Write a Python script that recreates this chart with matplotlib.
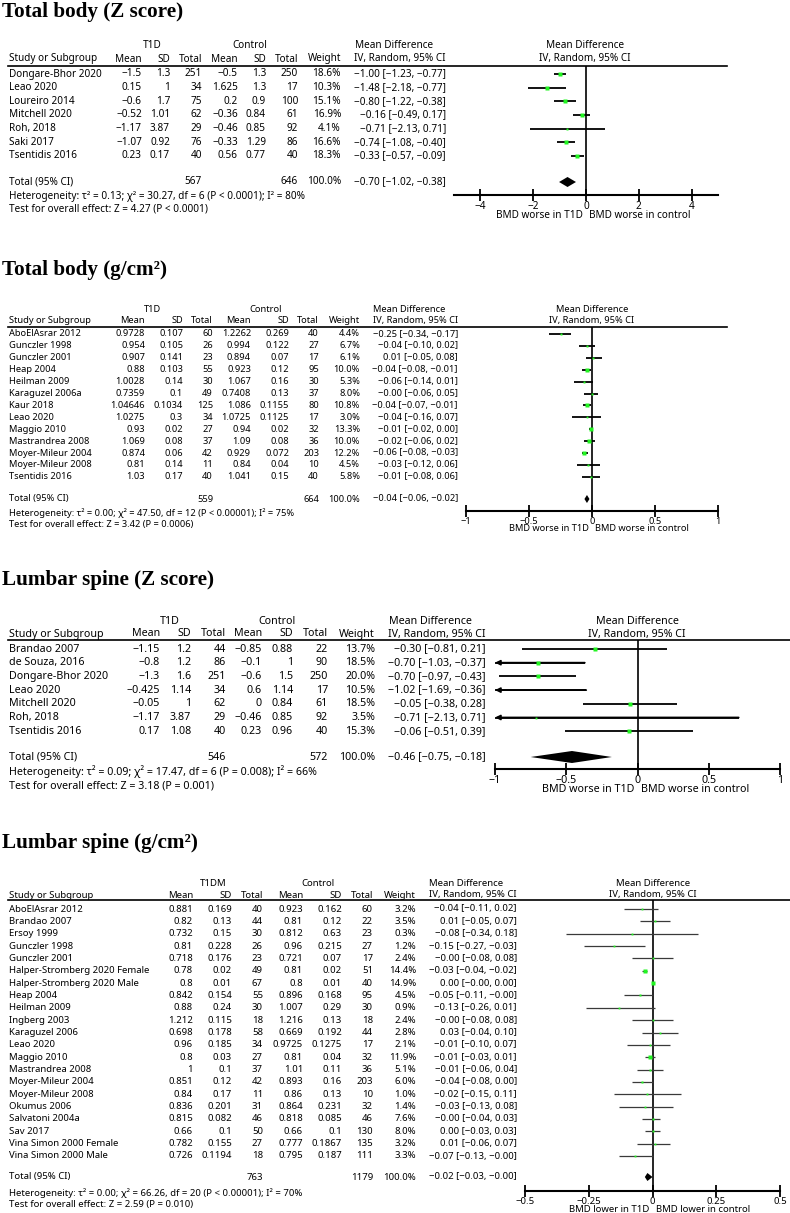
import matplotlib
matplotlib.use('Agg')
import matplotlib.pyplot as plt
from matplotlib.lines import Line2D
from matplotlib.ticker import FixedLocator
import numpy as np

plt.rcParams['font.family'] = ['Noto Sans', 'DejaVu Sans']

# ---------------- data: Total body (Z score) ----------------
tbz_study = ['Dongare-Bhor 2020', 'Leao 2020', 'Loureiro 2014', 'Mitchell 2020',
             'Roh, 2018', 'Saki 2017', 'Tsentidis 2016']
tbz_t1d_mean = [-1.5, 0.15, -0.6, -0.52, -1.17, -1.07, 0.23]
tbz_t1d_sd = [1.3, 1, 1.7, 1.01, 3.87, 0.92, 0.17]
tbz_t1d_n = [251, 34, 75, 62, 29, 76, 40]
tbz_ctl_mean = [-0.5, 1.625, 0.2, -0.36, -0.46, -0.33, 0.56]
tbz_ctl_sd = [1.3, 1.3, 0.9, 0.84, 0.85, 1.29, 0.77]
tbz_ctl_n = [250, 17, 100, 61, 92, 86, 40]
tbz_weight = [18.6, 10.3, 15.1, 16.9, 4.1, 16.6, 18.3]
tbz_md = [-1.00, -1.48, -0.80, -0.16, -0.71, -0.74, -0.33]
tbz_lo = [-1.23, -2.18, -1.22, -0.49, -2.13, -1.08, -0.57]
tbz_hi = [-0.77, -0.77, -0.38, 0.17, 0.71, -0.40, -0.09]
tbz_total = (567, 646, -0.70, -1.02, -0.38)
tbz_het = 'Heterogeneity: \u03c4\u00b2 = 0.13; \u03c7\u00b2 = 30.27, df = 6 (P < 0.0001); I\u00b2 = 80%'
tbz_test = 'Test for overall effect: Z = 4.27 (P < 0.0001)'

# ---------------- data: Total body (g/cm2) ----------------
tbg_study = ['AboElAsrar 2012', 'Gunczler 1998', 'Gunczler 2001', 'Heap 2004', 'Heilman 2009',
             'Karaguzel 2006a', 'Kaur 2018', 'Leao 2020', 'Maggio 2010', 'Mastrandrea 2008',
             'Moyer-Mileur 2004', 'Moyer-Mileur 2008', 'Tsentidis 2016']
tbg_t1d_mean = [0.9728, 0.954, 0.907, 0.88, 1.0028, 0.7359, 1.04646, 1.0275, 0.93, 1.069, 0.874, 0.81, 1.03]
tbg_t1d_sd = [0.107, 0.105, 0.141, 0.103, 0.14, 0.1, 0.1034, 0.3, 0.02, 0.08, 0.06, 0.14, 0.17]
tbg_t1d_n = [60, 26, 23, 55, 30, 49, 125, 34, 27, 37, 42, 11, 40]
tbg_ctl_mean = [1.2262, 0.994, 0.894, 0.923, 1.067, 0.7408, 1.086, 1.0725, 0.94, 1.09, 0.929, 0.84, 1.041]
tbg_ctl_sd = [0.269, 0.122, 0.07, 0.12, 0.16, 0.13, 0.1155, 0.1125, 0.02, 0.08, 0.072, 0.04, 0.15]
tbg_ctl_n = [40, 27, 17, 95, 30, 37, 80, 17, 32, 36, 203, 10, 40]
tbg_weight = [4.4, 6.7, 6.1, 10.0, 5.3, 8.0, 10.8, 3.0, 13.3, 10.0, 12.2, 4.5, 5.8]
tbg_md = [-0.25, -0.04, 0.01, -0.04, -0.06, -0.0, -0.04, -0.04, -0.01, -0.02, -0.06, -0.03, -0.01]
tbg_lo = [-0.34, -0.10, -0.05, -0.08, -0.14, -0.06, -0.07, -0.16, -0.02, -0.06, -0.08, -0.12, -0.08]
tbg_hi = [-0.17, 0.02, 0.08, -0.01, 0.01, 0.05, -0.01, 0.07, 0.00, 0.02, -0.03, 0.06, 0.06]
tbg_total = (559, 664, -0.04, -0.06, -0.02)
tbg_het = 'Heterogeneity: \u03c4\u00b2 = 0.00; \u03c7\u00b2 = 47.50, df = 12 (P < 0.00001); I\u00b2 = 75%'
tbg_test = 'Test for overall effect: Z = 3.42 (P = 0.0006)'

# ---------------- data: Lumbar spine (Z score) ----------------
lsz_study = ['Brandao 2007', 'de Souza, 2016', 'Dongare-Bhor 2020', 'Leao 2020',
             'Mitchell 2020', 'Roh, 2018', 'Tsentidis 2016']
lsz_t1d_mean = [-1.15, -0.8, -1.3, -0.425, -0.05, -1.17, 0.17]
lsz_t1d_sd = [1.2, 1.2, 1.6, 1.14, 1, 3.87, 1.08]
lsz_t1d_n = [44, 86, 251, 34, 62, 29, 40]
lsz_ctl_mean = [-0.85, -0.1, -0.6, 0.6, 0, -0.46, 0.23]
lsz_ctl_sd = [0.88, 1, 1.5, 1.14, 0.84, 0.85, 0.96]
lsz_ctl_n = [22, 90, 250, 17, 61, 92, 40]
lsz_weight = [13.7, 18.5, 20.0, 10.5, 18.5, 3.5, 15.3]
lsz_md = [-0.30, -0.70, -0.70, -1.02, -0.05, -0.71, -0.06]
lsz_lo = [-0.81, -1.03, -0.97, -1.69, -0.38, -2.13, -0.51]
lsz_hi = [0.21, -0.37, -0.43, -0.36, 0.28, 0.71, 0.39]
lsz_total = (546, 572, -0.46, -0.75, -0.18)
lsz_het = 'Heterogeneity: \u03c4\u00b2 = 0.09; \u03c7\u00b2 = 17.47, df = 6 (P = 0.008); I\u00b2 = 66%'
lsz_test = 'Test for overall effect: Z = 3.18 (P = 0.001)'

# ---------------- data: Lumbar spine (g/cm2) ----------------
lsg_study = ['AboElAsrar 2012', 'Brandao 2007', 'Ersoy 1999', 'Gunczler 1998', 'Gunczler 2001',
             'Halper-Stromberg 2020 Female', 'Halper-Stromberg 2020 Male', 'Heap 2004',
             'Heilman 2009', 'Ingberg 2003', 'Karaguzel 2006', 'Leao 2020', 'Maggio 2010',
             'Mastrandrea 2008', 'Moyer-Mileur 2004', 'Moyer-Mileur 2008', 'Okumus 2006',
             'Salvatoni 2004a', 'Sav 2017', 'Vina Simon 2000 Female', 'Vina Simon 2000 Male']
lsg_t1d_mean = [0.881, 0.82, 0.732, 0.81, 0.718, 0.78, 0.8, 0.842, 0.88, 1.212, 0.698, 0.96,
                0.8, 1, 0.851, 0.84, 0.836, 0.815, 0.66, 0.782, 0.726]
lsg_t1d_sd = [0.169, 0.13, 0.15, 0.228, 0.176, 0.02, 0.01, 0.154, 0.24, 0.115, 0.178, 0.185,
              0.03, 0.1, 0.12, 0.17, 0.201, 0.082, 0.1, 0.155, 0.1194]
lsg_t1d_n = [40, 44, 30, 26, 23, 49, 67, 55, 30, 18, 58, 34, 27, 37, 42, 11, 31, 46, 50, 27, 18]
lsg_ctl_mean = [0.923, 0.81, 0.812, 0.96, 0.721, 0.81, 0.8, 0.896, 1.007, 1.216, 0.669, 0.9725,
                0.81, 1.01, 0.893, 0.86, 0.864, 0.818, 0.66, 0.777, 0.795]
lsg_ctl_sd = [0.162, 0.12, 0.63, 0.215, 0.07, 0.02, 0.01, 0.168, 0.29, 0.13, 0.192, 0.1275,
              0.04, 0.11, 0.16, 0.13, 0.231, 0.085, 0.1, 0.1867, 0.187]
lsg_ctl_n = [60, 22, 23, 27, 17, 51, 40, 95, 30, 18, 44, 17, 32, 36, 203, 10, 32, 46, 130, 135, 111]
lsg_weight = [3.2, 3.5, 0.3, 1.2, 2.4, 14.4, 14.9, 4.5, 0.9, 2.4, 2.8, 2.1, 11.9, 5.1, 6.0,
              1.0, 1.4, 7.6, 8.0, 3.2, 3.3]
lsg_md = [-0.04, 0.01, -0.08, -0.15, -0.0, -0.03, 0.00, -0.05, -0.13, -0.0, 0.03, -0.01, -0.01,
          -0.01, -0.04, -0.02, -0.03, -0.0, 0.00, 0.01, -0.07]
lsg_lo = [-0.11, -0.05, -0.34, -0.27, -0.08, -0.04, -0.0, -0.11, -0.26, -0.08, -0.04, -0.10,
          -0.03, -0.06, -0.08, -0.15, -0.13, -0.04, -0.03, -0.06, -0.13]
lsg_hi = [0.02, 0.07, 0.18, -0.03, 0.08, -0.02, 0.00, -0.0, 0.01, 0.08, 0.10, 0.07, 0.01, 0.04,
          0.00, 0.11, 0.08, 0.03, 0.03, 0.07, -0.0]
lsg_total = (763, 1179, -0.02, -0.03, -0.0)
lsg_het = 'Heterogeneity: \u03c4\u00b2 = 0.00; \u03c7\u00b2 = 66.26, df = 20 (P < 0.00001); I\u00b2 = 70%'
lsg_test = 'Test for overall effect: Z = 2.59 (P = 0.010)'

W, H = 790, 1213
fig = plt.figure(figsize=(W / 100, H / 100), dpi=100)

MINUS = '\u2212'
GREEN = '#22f522'


def fx(x):
    return x / W


def fy(y):
    return 1 - y / H


def num(v):
    return '{:g}'.format(v).replace('-', MINUS)


def md_txt(m, l, h):
    return '{:.2f} [{:.2f}, {:.2f}]'.format(m, l, h).replace('-', MINUS)


def txt(x, y, s, fs, ha='right', bold=False):
    fig.text(fx(x), fy(y), s, ha=ha, va='center', fontsize=fs,
             fontweight='bold' if bold else 'normal')


def panel(title, grp, study, m1, s1, n1, m2, s2, n2, wt, md, lo, hi, total, het, test,
          lay, lim, ticks, xlab, ci_col='k', ci_lw=1.3):
    fs = lay['fs']
    fig.text(fx(2), fy(lay['title_y']), title, family='Liberation Serif', fontweight='bold',
             fontsize=15.2, va='baseline', ha='left')
    c = lay['cols']
    txt(lay['grp_x'][0], lay['grp_y'], grp, fs, ha='center', bold=True)
    txt(lay['grp_x'][1], lay['grp_y'], 'Control', fs, ha='center', bold=True)
    txt(lay['mdh_x'], lay['grp_y'], 'Mean Difference', fs, ha='center', bold=True)
    txt(lay['zero_x'], lay['grp_y'], 'Mean Difference', fs, ha='center', bold=True)
    hy = lay['hdr_y']
    txt(9, hy, 'Study or Subgroup', fs, ha='left', bold=True)
    for x, s in zip(c, ['Mean', 'SD', 'Total', 'Mean', 'SD', 'Total', 'Weight']):
        txt(x, hy, s, fs, bold=True)
    txt(lay['md_r'], hy, 'IV, Random, 95% CI', fs, bold=True)
    txt(lay['zero_x'], hy, 'IV, Random, 95% CI', fs, ha='center', bold=True)
    fig.add_artist(Line2D([fx(8), fx(lay['line_x1'])], [fy(lay['line_y'])] * 2,
                          color='k', lw=1.2))

    rows = [lay['row0'] + i * lay['step'] for i in range(len(study))]
    for i, y in enumerate(rows):
        txt(9, y, study[i], fs, ha='left')
        vals = [num(m1[i]), num(s1[i]), str(n1[i]), num(m2[i]), num(s2[i]), str(n2[i]),
                '{:.1f}%'.format(wt[i])]
        for x, s in zip(c, vals):
            txt(x, y, s, fs)
        txt(lay['md_r'], y, md_txt(md[i], lo[i], hi[i]), fs)

    ty = lay['total_y']
    txt(9, ty, 'Total (95% CI)', fs, ha='left', bold=True)
    txt(c[2], ty, str(total[0]), fs, bold=True)
    txt(c[5], ty, str(total[1]), fs, bold=True)
    txt(c[6], ty, '100.0%', fs, bold=True)
    txt(lay['md_r'], ty, md_txt(*total[2:]), fs, bold=True)
    txt(9, lay['het_y'], het, fs, ha='left')
    txt(9, lay['test_y'], test, fs, ha='left')

    # forest plot
    x0, x1 = lay['ax_x']
    ay, ly = lay['axis_y'], lay['line_y']
    ax = fig.add_axes([fx(x0), fy(ay), (x1 - x0) / W, (ay - ly) / H])
    ax.set_xlim(-lim, lim)
    ax.set_ylim(ay, ly)
    ax.patch.set_alpha(0)
    for sp in ['top', 'right', 'left']:
        ax.spines[sp].set_visible(False)
    ax.spines['bottom'].set_linewidth(1.5)
    ax.set_yticks([])
    ax.xaxis.set_major_locator(FixedLocator(ticks))
    ax.set_xticklabels([num(t) for t in ticks])
    ax.tick_params(axis='x', direction='inout', length=8, width=1.3, pad=0, labelsize=fs)
    ax.axvline(0, color='k', lw=1.2, zorder=1)

    for i, y in enumerate(rows):
        a, b = max(lo[i], -lim), min(hi[i], lim)
        ax.plot([a, b], [y, y], color=ci_col, lw=ci_lw, solid_capstyle='butt', zorder=2)
        if lo[i] < -lim:
            ax.annotate('', xy=(-lim, y), xytext=(b, y),
                        arrowprops=dict(arrowstyle='-|>', color='k', lw=ci_lw,
                                        mutation_scale=7, shrinkA=0, shrinkB=0), zorder=2)
        if hi[i] > lim:
            ax.annotate('', xy=(lim, y), xytext=(a, y),
                        arrowprops=dict(arrowstyle='-|>', color='k', lw=ci_lw,
                                        mutation_scale=7, shrinkA=0, shrinkB=0), zorder=2)
        if -lim <= md[i] <= lim:
            ax.plot(md[i], y, 's', color=GREEN, mec='none',
                    ms=max(1.0 * np.sqrt(wt[i]) * 0.72, 1.3), zorder=3)

    m, l, h = total[2:]
    dh = lay['dh']
    ax.fill([l, m, h, m], [ty, ty - dh, ty, ty + dh], color='k', lw=0, zorder=3)

    ax.annotate(xlab[0], xy=(0, 0), xycoords=('data', 'axes fraction'),
                xytext=(-2.5, -lay['lab_off']), textcoords='offset points',
                ha='right', va='center', fontsize=fs)
    ax.annotate(xlab[1], xy=(0, 0), xycoords=('data', 'axes fraction'),
                xytext=(2.5, -lay['lab_off']), textcoords='offset points',
                ha='left', va='center', fontsize=fs)
    return ax


lay1 = dict(title_y=17, grp_y=45, hdr_y=59, line_y=66, row0=74, step=13.65, total_y=182,
            het_y=196, test_y=209, fs=7.2, cols=[142, 170, 202, 238, 266, 298, 341],
            md_r=446, mdh_x=394, zero_x=585, grp_x=[152, 250], line_x1=727, ax_x=(454, 718),
            axis_y=195, dh=5, lab_off=15)
lay2 = dict(title_y=275, grp_y=309, hdr_y=321, line_y=327, row0=334, step=11.9, total_y=499,
            het_y=513, test_y=524, fs=6.7, cols=[145, 183, 213, 251, 289, 319, 360],
            md_r=458, mdh_x=409, zero_x=592, grp_x=[153, 266], line_x1=727, ax_x=(466, 718),
            axis_y=511, dh=4, lab_off=12.5)
lay3 = dict(title_y=585, grp_y=621, hdr_y=634, line_y=640, row0=649, step=13.7, total_y=757,
            het_y=772, test_y=786, fs=7.7, cols=[160, 191, 226, 262, 293, 328, 375],
            md_r=486, mdh_x=430, zero_x=637, grp_x=[170, 277], line_x1=790, ax_x=(495, 780),
            axis_y=769, dh=6, lab_off=15)
lay4 = dict(title_y=848, grp_y=883, hdr_y=895, line_y=900, row0=909, step=12.35, total_y=1177,
            het_y=1193, test_y=1204, fs=6.9, cols=[193, 232, 263, 303, 342, 373, 416],
            md_r=517, mdh_x=466, zero_x=653, grp_x=[213, 318], line_x1=790, ax_x=(525, 780),
            axis_y=1191, dh=4, lab_off=13.5)

worse = ('BMD worse in T1D', 'BMD worse in control')
panel('Total body (Z score)', 'T1D', tbz_study, tbz_t1d_mean, tbz_t1d_sd, tbz_t1d_n,
      tbz_ctl_mean, tbz_ctl_sd, tbz_ctl_n, tbz_weight, tbz_md, tbz_lo, tbz_hi, tbz_total,
      tbz_het, tbz_test, lay1, 5, [-4, -2, 0, 2, 4], worse)
panel('Total body (g/cm\u00b2)', 'T1D', tbg_study, tbg_t1d_mean, tbg_t1d_sd, tbg_t1d_n,
      tbg_ctl_mean, tbg_ctl_sd, tbg_ctl_n, tbg_weight, tbg_md, tbg_lo, tbg_hi, tbg_total,
      tbg_het, tbg_test, lay2, 1, [-1, -0.5, 0, 0.5, 1], worse)
panel('Lumbar spine (Z score)', 'T1D', lsz_study, lsz_t1d_mean, lsz_t1d_sd, lsz_t1d_n,
      lsz_ctl_mean, lsz_ctl_sd, lsz_ctl_n, lsz_weight, lsz_md, lsz_lo, lsz_hi, lsz_total,
      lsz_het, lsz_test, lay3, 1, [-1, -0.5, 0, 0.5, 1], worse)
panel('Lumbar spine (g/cm\u00b2)', 'T1DM', lsg_study, lsg_t1d_mean, lsg_t1d_sd, lsg_t1d_n,
      lsg_ctl_mean, lsg_ctl_sd, lsg_ctl_n, lsg_weight, lsg_md, lsg_lo, lsg_hi, lsg_total,
      lsg_het, lsg_test, lay4, 0.5, [-0.5, -0.25, 0, 0.25, 0.5],
      ('BMD lower in T1D', 'BMD lower in control'), ci_col='#3a3a3a', ci_lw=0.9)

fig.savefig('out.png', dpi=100)
